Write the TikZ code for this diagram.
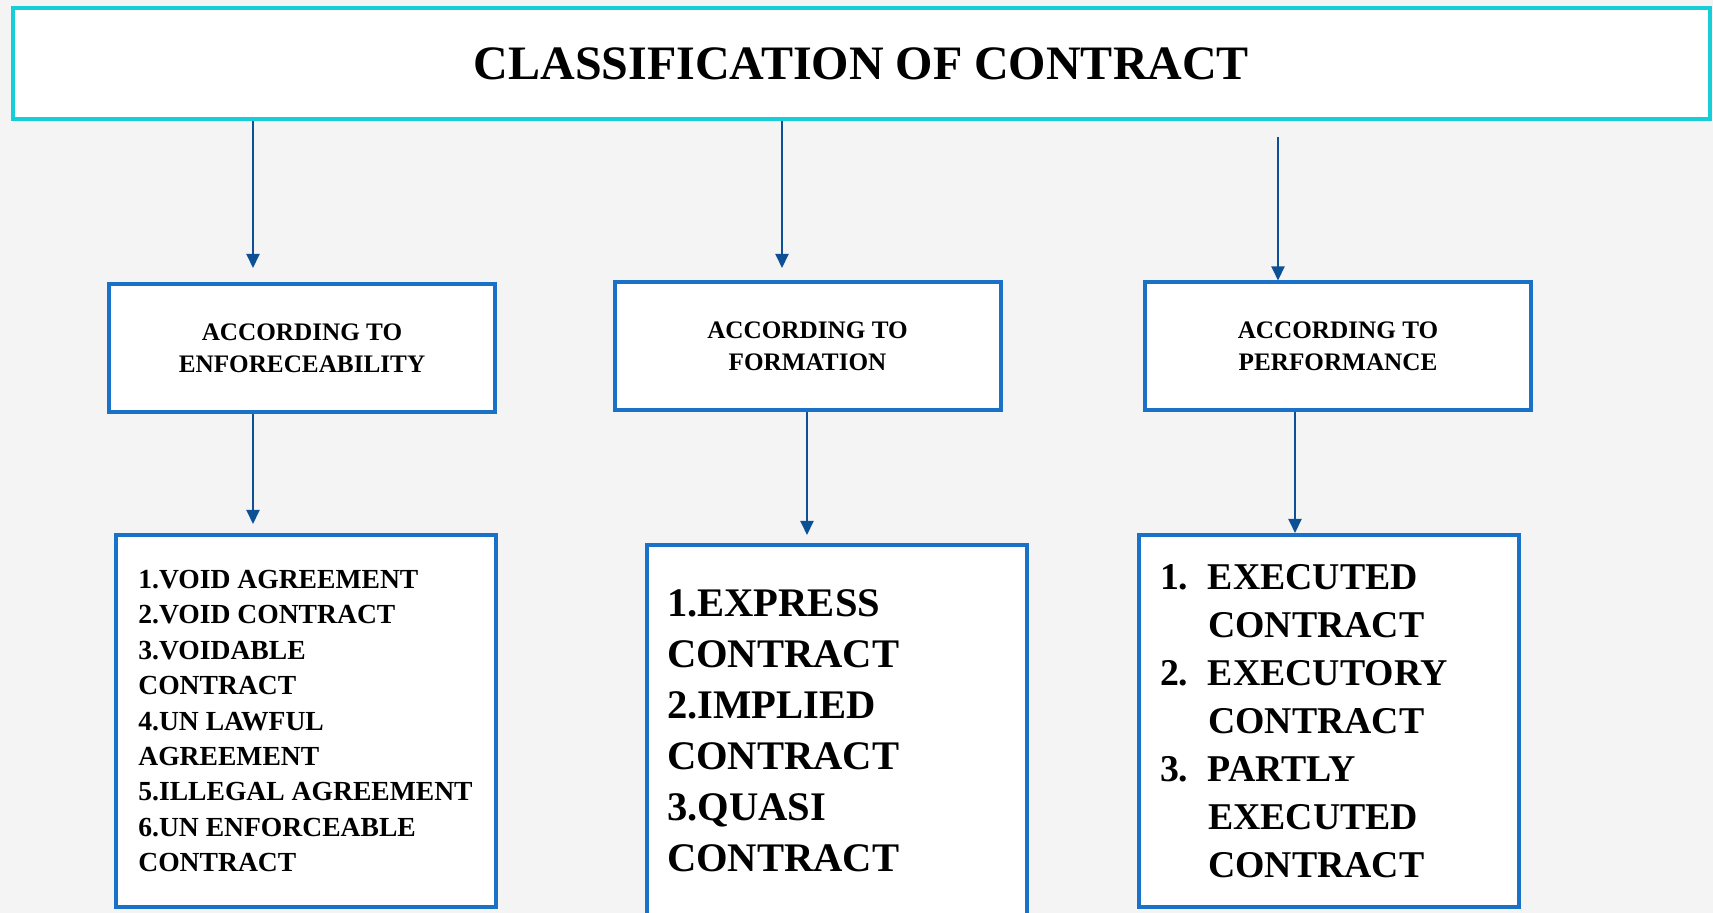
\documentclass[tikz,border=0pt]{standalone}
\usepackage{fontspec}
\setmainfont{Liberation Serif}
\usetikzlibrary{arrows.meta}
\definecolor{titlecyan}{RGB}{22,205,216}
\definecolor{boxblue}{RGB}{26,113,200}
\definecolor{arrowblue}{RGB}{14,80,150}
\definecolor{bggray}{RGB}{244,244,244}
\newcommand{\numitem}[1]{\makebox[24pt][l]{#1}}
\newcommand{\numskip}{\hspace*{24pt}}

\begin{document}
\begin{tikzpicture}[
    x=0.5pt, y=-0.5pt,
    titlebox/.style={rectangle, draw=titlecyan, line width=2pt, fill=white, minimum width=848.5pt, minimum height=55.5pt, font=\fontsize{24}{28}\selectfont\bfseries},
    headbox/.style={rectangle, draw=boxblue, line width=2pt, fill=white, minimum width=193pt, minimum height=64pt, align=center, font=\fontsize{12.6}{16}\selectfont\bfseries},
    listbox/.style={rectangle, draw=boxblue, line width=2pt, fill=white, minimum width=190pt, align=left},
    arr/.style={draw=arrowblue, line width=1pt, -{Triangle[length=7pt,width=6.5pt]}},
]
\clip (0,0) rectangle (1713,913);
\fill[bggray] (0,0) rectangle (1713,913);

% title
\node[titlebox] (title) at (861.5,63.5) {CLASSIFICATION OF CONTRACT};

% headings
\node[headbox] (a1) at (302,348) {ACCORDING TO\\ENFORECEABILITY};
\node[headbox] (a2) at (807.5,346.5) {ACCORDING TO\\FORMATION};
\node[headbox] (a3) at (1338,346.5) {ACCORDING TO\\PERFORMANCE};

% lists
\node[listbox, minimum height=186pt, font=\fontsize{13.8}{17.7}\selectfont\bfseries] (b1) at (305.5,721)
    {1.VOID AGREEMENT\\2.VOID CONTRACT\\3.VOIDABLE\\CONTRACT\\4.UN LAWFUL\\AGREEMENT\\5.ILLEGAL AGREEMENT\\6.UN ENFORCEABLE\\CONTRACT};
\node[listbox, minimum height=185.5pt, text width=170pt, font=\fontsize{20.3}{25.5}\selectfont\bfseries] (b2) at (837,730.5)
    {1.EXPRESS\\CONTRACT\\2.IMPLIED\\CONTRACT\\3.QUASI\\CONTRACT};
\node[listbox, minimum height=186pt, text width=169pt, font=\fontsize{18.9}{24}\selectfont\bfseries] (b3) at (1329,721)
    {\numitem{1.}EXECUTED\\\numskip CONTRACT\\\numitem{2.}EXECUTORY\\\numskip CONTRACT\\\numitem{3.}PARTLY\\\numskip EXECUTED\\\numskip CONTRACT};

% arrows
\coordinate (t1) at (253,268);
\coordinate (t2) at (782,268);
\coordinate (s3) at (1278,137);
\coordinate (d1) at (253,524);
\coordinate (d2) at (807,535);
\coordinate (d3) at (1295,535);
\draw[arr] (title.south -| t1) -- (t1);
\draw[arr] (title.south -| t2) -- (t2);
\draw[arr] (s3) -- (s3 |- a3.north);
\draw[arr] (a1.south -| d1) -- (d1);
\draw[arr] (a2.south -| d2) -- (d2);
\draw[arr] (a3.south -| d3) -- (b3.north -| d3);
\end{tikzpicture}
\end{document}
